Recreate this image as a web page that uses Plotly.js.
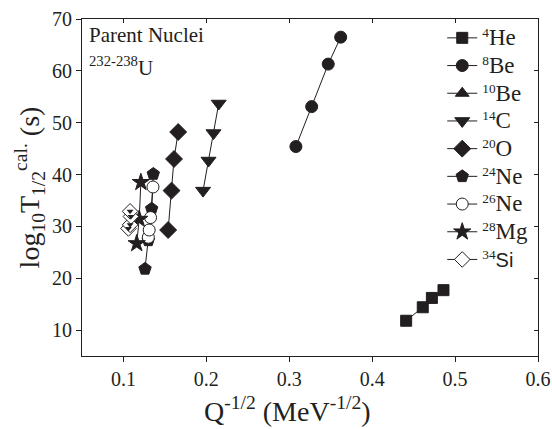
<!DOCTYPE html>
<html>
<head>
<meta charset="utf-8">
<script src="https://cdn.plot.ly/plotly-3.0.1.min.js"></script>
<style>html,body{margin:0;padding:0;background:#fff;}</style>
</head>
<body>
<div id="chart" style="width:552px;height:429px;"></div>
<script>
// Data
const he4X = [0.441, 0.461, 0.472, 0.486];
const he4Y = [11.8, 14.4, 16.2, 17.7];
const be8X = [0.308, 0.327, 0.347, 0.362];
const be8Y = [45.4, 53.1, 61.3, 66.5];
const be10X = [null];
const be10Y = [null];
const c14X = [0.196, 0.2026, 0.2086, 0.2149];
const c14Y = [36.9, 42.7, 48.0, 53.7];
const o20X = [0.1539, 0.158, 0.161, 0.166];
const o20Y = [29.3, 36.9, 43.0, 48.2];
const ne24X = [0.126, 0.130, 0.134, 0.136];
const ne24Y = [21.8, 27.3, 33.4, 40.1];
const ne26X = [0.130, 0.131, 0.1327, 0.1356];
const ne26Y = [27.9, 29.3, 31.7, 37.6];
const mg28X = [0.116, 0.119, 0.121];
const mg28Y = [26.7, 31.4, 38.5];
const si34X = [0.106, 0.108, 0.109, 0.108];
const si34Y = [29.6, 30.3, 31.9, 32.9];

const isoMass = ['4', '8', '10', '14', '20', '24', '26', '28', '34'];
const isoElem = ['He', 'Be', 'Be', 'C', 'O', 'Ne', 'Ne', 'Mg', 'Si'];

const ink = '#231f20';
const serif = 'Liberation Serif';

function legName(i) {
  const sty = isoElem[i] === 'Si' ? 'font-family:Liberation Sans;font-size:20px' : 'font-size:23px';
  return '<sup>' + isoMass[i] + '</sup><span style="' + sty + '">' + isoElem[i] + '</span>';
}

function tr(x, y, i, symbol, size, fill) {
  return {
    x: x, y: y, name: legName(i), type: 'scatter', mode: 'lines+markers',
    line: {color: ink, width: 1},
    marker: {symbol: symbol, size: size, color: fill || ink, line: {color: ink, width: 1}}
  };
}

const data = [
  tr(he4X, he4Y, 0, 'square', 11),
  tr(be8X, be8Y, 1, 'circle', 12),
  tr(be10X, be10Y, 2, 'triangle-up', 12),
  tr(c14X, c14Y, 3, 'triangle-down', 13),
  tr(o20X, o20Y, 4, 'diamond', 13),
  tr(ne24X, ne24Y, 5, 'pentagon', 13),
  tr(ne26X, ne26Y, 6, 'circle', 12, '#ffffff'),
  tr(mg28X, mg28Y, 7, 'star', 13),
  tr(si34X, si34Y, 8, 'diamond', 12, '#ffffff'),
  {x: si34X, y: si34Y, type: 'scatter', mode: 'markers', showlegend: false, hoverinfo: 'skip',
   marker: {symbol: 'triangle-down', size: 6, color: ink}}
];

const layout = {
  width: 552, height: 429,
  margin: {l: 82, r: 14, t: 19, b: 73},
  paper_bgcolor: '#ffffff', plot_bgcolor: '#ffffff',
  font: {family: serif, color: ink, size: 19},
  showlegend: true,
  legend: {x: 0.79, y: 1.0, xanchor: 'left', yanchor: 'top', bgcolor: 'rgba(0,0,0,0)',
    font: {family: serif, size: 19, color: ink}, tracegroupgap: 0},
  xaxis: {
    range: [0.05, 0.6], tickvals: [0.1, 0.2, 0.3, 0.4, 0.5, 0.6],
    ticktext: ['0.1', '0.2', '0.3', '0.4', '0.5', '0.6'],
    ticks: 'outside', ticklen: 5, tickcolor: ink, showgrid: false, zeroline: false,
    showline: true, linecolor: ink, linewidth: 1, mirror: true,
    tickfont: {family: serif, size: 20, color: ink}
  },
  yaxis: {
    range: [5, 70], tickvals: [10, 20, 30, 40, 50, 60, 70],
    ticks: 'outside', ticklen: 5, tickcolor: ink, showgrid: false, zeroline: false,
    showline: true, linecolor: ink, linewidth: 1, mirror: true,
    tickfont: {family: serif, size: 20, color: ink},
    title: {text: 'log<sub>10</sub>T<sub>1/2</sub><sup>cal.</sup> (s)', font: {family: serif, size: 28, color: ink}, standoff: 4}
  },
  xaxis2: {overlaying: 'x', side: 'top', matches: 'x', range: [0.05, 0.6], tickvals: [0.1, 0.2, 0.3, 0.4, 0.5, 0.6],
    ticks: 'inside', ticklen: 4, tickcolor: ink, showticklabels: false, showgrid: false, zeroline: false},
  yaxis2: {overlaying: 'y', side: 'right', range: [5, 70], tickvals: [10, 20, 30, 40, 50, 60, 70],
    ticks: 'inside', ticklen: 4, tickcolor: ink, showticklabels: false, showgrid: false, zeroline: false},
  annotations: [
    {xref: 'paper', yref: 'paper', x: 0.01, y: 0.995, xanchor: 'left', yanchor: 'top', showarrow: false,
     text: 'Parent Nuclei', font: {family: serif, size: 21, color: ink}},
    {xref: 'paper', yref: 'paper', x: 0.01, y: 0.905, xanchor: 'left', yanchor: 'top', showarrow: false,
     text: '<sup>232-238</sup>U', font: {family: serif, size: 21, color: ink}},
    {xref: 'paper', yref: 'paper', x: 0.45, y: -0.16, xanchor: 'center', yanchor: 'middle', showarrow: false,
     text: 'Q<sup>-1/2</sup> (MeV<sup>-1/2</sup>)', font: {family: serif, size: 28, color: ink}}
  ]
};

// dummy trace to activate the mirrored axes
data.push({x: [null], y: [null], xaxis: 'x2', yaxis: 'y2', type: 'scatter', mode: 'markers', showlegend: false, hoverinfo: 'skip'});

Plotly.newPlot('chart', data, layout, {displayModeBar: false, staticPlot: true});
</script>
</body>
</html>
